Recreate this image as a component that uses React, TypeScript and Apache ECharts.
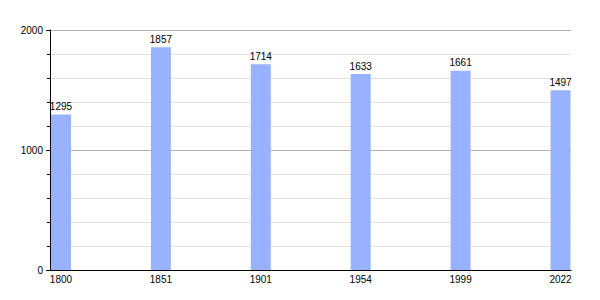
import React, { useEffect, useRef } from "react";
import * as echarts from "echarts";

const years = ["1800", "1851", "1901", "1954", "1999", "2022"];
const population = [1295, 1857, 1714, 1633, 1661, 1497];
const yTicks = [0, 1000, 2000];

export default function App() {
  const ref = useRef<HTMLDivElement>(null);
  useEffect(() => {
    if (!ref.current) return;
    const chart = echarts.init(ref.current, null, { renderer: "svg" });
    const font = "'Liberation Sans', Arial, sans-serif";
    chart.setOption({
      animation: false,
      grid: { left: 50, right: 29, top: 30, bottom: 30, containLabel: false },
      xAxis: {
        type: "value",
        min: -0.11,
        max: 5.105,
        axisLine: { show: true, onZero: false, lineStyle: { color: "#000", width: 1 } },
        axisTick: { show: false },
        splitLine: { show: false },
        axisLabel: {
          show: true,
          customValues: years.map((_, i) => i),
          formatter: (v: number) => years[Math.round(v)] ?? "",
          color: "#000",
          fontSize: 10,
          fontFamily: font,
          margin: 4,
        },
      },
      yAxis: {
        type: "value",
        min: yTicks[0],
        max: yTicks[yTicks.length - 1],
        interval: 1000,
        axisLine: { show: true, onZero: false, lineStyle: { color: "#000", width: 1 } },
        axisTick: { show: true, length: 4, lineStyle: { color: "#000" } },
        minorTick: { show: true, splitNumber: 5, length: 3, lineStyle: { color: "#000" } },
        splitLine: { show: true, lineStyle: { color: "#b0b0b0", width: 1 } },
        minorSplitLine: { show: true, lineStyle: { color: "#e0e0e0", width: 1 } },
        axisLabel: {
          color: "#000",
          fontSize: 10,
          fontFamily: font,
          margin: 7,
          formatter: (v: number) => String(v),
        },
      },
      series: [
        {
          type: "bar",
          data: population.map((v, i) => [i, v]),
          barWidth: 20,
          itemStyle: { color: "#99b2ff" },
          label: {
            show: true,
            position: "top",
            distance: 3,
            color: "#000",
            fontSize: 10,
            fontFamily: font,
          },
        },
      ],
    });
    return () => chart.dispose();
  }, []);
  return (
    <div
      ref={ref}
      style={{ position: "absolute", left: 0, top: 0, width: 600, height: 300, background: "#fff" }}
    />
  );
}
